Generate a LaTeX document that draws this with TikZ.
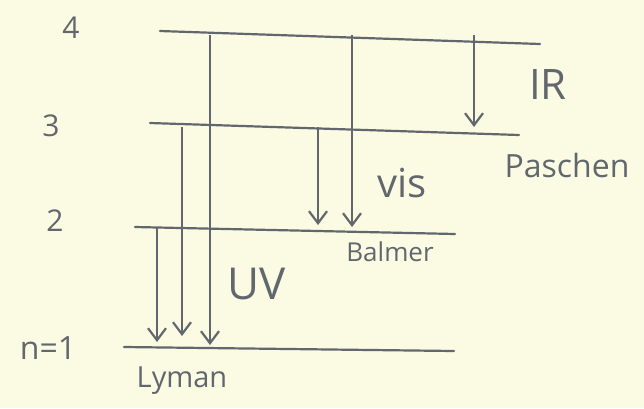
\documentclass[tikz,border=0pt]{standalone}
\usepackage{fontspec}
\setmainfont{Open Sans}
\usetikzlibrary{arrows.meta}
\definecolor{paper}{RGB}{250,251,226}
\definecolor{pencil}{RGB}{98,103,110}
\tikzset{
  level/.style={pencil, line width=2.2pt, line cap=round},
  jump/.style={pencil, line width=2.2pt, -{Straight Barb[length=12pt,width=18pt]}},
  hand/.style={text=pencil, inner sep=0pt},
}
\begin{document}
\begin{tikzpicture}[x=1pt,y=-1pt]
    \fill[paper] (0,0) rectangle (644,408);
    \useasboundingbox (0,0) rectangle (644,408);
    % energy levels
    \draw[level] (160,31) -- (540,44);
    \draw[level] (150,123) -- (519,135);
    \draw[level] (135,227) -- (455,234);
    \draw[level] (124,347) -- (454,351);
    \coordinate (n4) at (0,35);
    \coordinate (n3) at (0,127);
    \coordinate (n2) at (0,228);
    \coordinate (n1) at (0,345);
    \node[hand, font=\fontsize{30}{30}\selectfont] (l4) at (71,28) {4};
    \node[hand, font=\fontsize{30}{30}\selectfont] (l3) at (51,126) {3};
    \node[hand, font=\fontsize{30}{30}\selectfont] (l2) at (55,221) {2};
    \node[hand, font=\fontsize{32}{32}\selectfont] (l1) at (48,348) {n=1};
    % transitions
    \foreach \x/\hi/\lo/\gap in {157/n2/n1/3, 182/n3/n1/9, 210/n4/n1/0,
                                 318/n3/n2/3, 352/n4/n2/1, 474/n4/n3/0}
      \draw[jump, shorten >=\gap pt] (\x,0 |- \hi) -- (\x,0 |- \lo);
    % series labels
    \node[hand, font=\fontsize{44}{44}\selectfont] (uv) at (257,284) {UV};
    \node[hand, font=\fontsize{40}{40}\selectfont] (vis) at (402,183) {vis};
    \node[hand, font=\fontsize{42}{42}\selectfont] (ir) at (548,85) {IR};
    \node[hand, font=\fontsize{29}{29}\selectfont] (lyman) at (182,381) {Lyman};
    \node[hand, font=\fontsize{26}{26}\selectfont] (balmer) at (390,252) {Balmer};
    \node[hand, font=\fontsize{32}{32}\selectfont] (paschen) at (567,165) {Paschen};
\end{tikzpicture}
\end{document}
